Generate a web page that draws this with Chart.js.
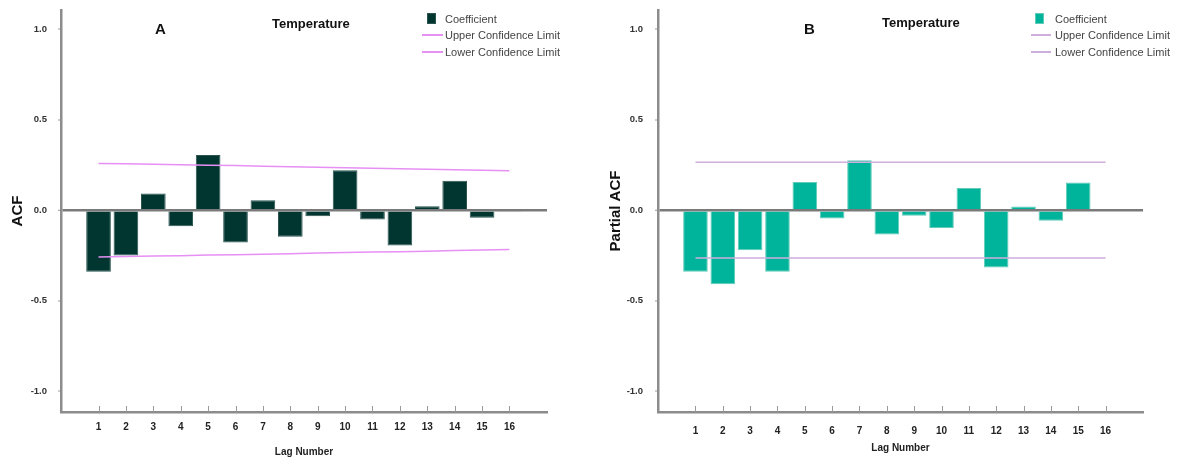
<!DOCTYPE html>
<html><head><meta charset="utf-8">
<script src="https://cdn.jsdelivr.net/npm/chart.js@4.4.1/dist/chart.umd.min.js"></script>
<style>
body{margin:0;background:#fff;width:1177px;height:459px;overflow:hidden;position:relative;font-family:"Liberation Sans",Arial,sans-serif}
canvas{position:absolute;top:0}
.t{position:absolute;font-weight:bold;color:#111;white-space:nowrap;line-height:1}
.lg{position:absolute;font-family:"Liberation Sans",Arial,sans-serif;font-size:11px;color:#444;white-space:nowrap;line-height:1}
.sq{position:absolute;width:9px;height:11px}
.ln{position:absolute;height:2px}
</style>
</head><body>
<canvas id="cA" width="580" height="459" style="left:0;width:580px;height:459px"></canvas>
<canvas id="cB" width="597" height="459" style="left:580px;width:597px;height:459px"></canvas>

<div class="t" style="left:155px;top:21px;font-size:15px">A</div>
<div class="t" style="left:272px;top:17px;font-size:13px">Temperature</div>
<div class="sq" style="left:427px;top:13px;background:#003530;border:1px solid #2c5550;box-sizing:border-box"></div>
<div class="lg" style="left:445px;top:14px">Coefficient</div>
<div class="ln" style="left:422px;top:34px;width:21px;background:#e690f3"></div>
<div class="lg" style="left:445px;top:30px">Upper Confidence Limit</div>
<div class="ln" style="left:422px;top:51px;width:21px;background:#e690f3"></div>
<div class="lg" style="left:445px;top:47px">Lower Confidence Limit</div>

<div class="t" style="left:804px;top:21px;font-size:15px">B</div>
<div class="t" style="left:882px;top:16px;font-size:13px">Temperature</div>
<div class="sq" style="left:1035px;top:13px;background:#00b39b;border:1px solid #5fcbb8;box-sizing:border-box"></div>
<div class="lg" style="left:1055px;top:14px">Coefficient</div>
<div class="ln" style="left:1031px;top:34px;width:20px;background:#cdaedc"></div>
<div class="lg" style="left:1055px;top:30px">Upper Confidence Limit</div>
<div class="ln" style="left:1031px;top:51px;width:20px;background:#cdaedc"></div>
<div class="lg" style="left:1055px;top:47px">Lower Confidence Limit</div>

<script>
const lags = [1,2,3,4,5,6,7,8,9,10,11,12,13,14,15,16];
const acf = [-0.340,-0.250,0.092,-0.088,0.304,-0.178,0.055,-0.147,-0.033,0.221,-0.051,-0.195,0.022,0.162,-0.042,-0.008];
const acfUpper = [0.258,0.256,0.253,0.251,0.248,0.246,0.243,0.240,0.237,0.234,0.231,0.229,0.226,0.223,0.220,0.217];
const acfLower = [-0.258,-0.256,-0.253,-0.251,-0.248,-0.246,-0.243,-0.240,-0.237,-0.234,-0.231,-0.229,-0.226,-0.223,-0.220,-0.217];
const pacf = [-0.340,-0.409,-0.221,-0.340,0.156,-0.046,0.276,-0.134,-0.031,-0.098,0.123,-0.317,0.020,-0.059,0.153,0.000];
const pacfUpper = [0.264,0.264,0.264,0.264,0.264,0.264,0.264,0.264,0.264,0.264,0.264,0.264,0.264,0.264,0.264,0.264];
const pacfLower = [-0.264,-0.264,-0.264,-0.264,-0.264,-0.264,-0.264,-0.264,-0.264,-0.264,-0.264,-0.264,-0.264,-0.264,-0.264,-0.264];
const yTickValues = [-1.0,-0.5,0.0,0.5,1.0];
const yTitleA = 'ACF';
const yTitleB = 'Partial ACF';
const xTitle = 'Lag Number';

const pts = arr => lags.map((l,i)=>({x:l,y:arr[i]}));

const innerTicks = {
  id:'innerTicks',
  afterDraw(chart){
    const xs = chart.scales.x, ctx = chart.ctx, b = chart.chartArea.bottom;
    ctx.save(); ctx.strokeStyle='#9a9a9a'; ctx.lineWidth=1;
    for (const v of lags){
      const px = Math.round(xs.getPixelForValue(v))+0.5;
      ctx.beginPath(); ctx.moveTo(px,b-6); ctx.lineTo(px,b); ctx.stroke();
    }
    ctx.restore();
  }
};

function makeChart(id, vals, up, lo, barColor, barBorder, limColor, yTitle, o){
  return new Chart(document.getElementById(id), {
    type:'bar',
    data:{datasets:[
      {type:'bar', label:'Coefficient', data:pts(vals), backgroundColor:barColor, borderColor:barBorder, borderWidth:1,
       barPercentage:0.9, categoryPercentage:1.0, order:2},
      {type:'line', label:'Upper Confidence Limit', data:pts(up), borderColor:limColor, borderWidth:1.5, pointRadius:0, fill:false, order:1},
      {type:'line', label:'Lower Confidence Limit', data:pts(lo), borderColor:limColor, borderWidth:1.5, pointRadius:0, fill:false, order:1}
    ]},
    options:{
      responsive:false, animation:false, devicePixelRatio:1,
      layout:{padding:{top:10,right:o.right,left:0,bottom:0}},
      plugins:{legend:{display:false}, tooltip:{enabled:false}, title:{display:false}},
      scales:{
        x:{type:'linear', min:-0.37, max:17.37, offset:false,
           afterBuildTicks(s){ s.ticks = lags.map(v=>({value:v})); },
           afterFit(s){ s.height = 47; s.paddingLeft = 0; s.paddingRight = 0; },
           grid:{display:false},
           border:{display:true,color:'#8c8c8c',width:2.5},
           ticks:{padding:o.xpad, color:'#222', font:{family:'Liberation Sans',size:10,weight:'bold'}, maxRotation:0, autoSkip:false, callback:v=>String(v)},
           title:{display:true,text:xTitle,color:'#222',font:{family:'Liberation Sans',size:10,weight:'bold'},padding:{top:0,bottom:o.xtb}}
        },
        y:{min:-1.114, max:1.105,
           afterBuildTicks(s){ s.ticks = yTickValues.map(v=>({value:v})); },
           afterFit(s){ s.width = o.yw; s.paddingTop = 0; s.paddingBottom = 0; },
           grid:{display:true, drawOnChartArea:true, drawTicks:true, tickLength:3,
                 color:c=>c.tick && c.tick.value===0 ? '#7a7a7a' : 'rgba(0,0,0,0)',
                 lineWidth:c=>c.tick && c.tick.value===0 ? 2.5 : 0,
                 tickColor:'#9a9a9a', tickWidth:1},
           border:{display:true,color:'#8c8c8c',width:2.5},
           ticks:{padding:o.ypad, color:'#333', font:{family:'Liberation Sans',size:9.5,weight:'bold'}, callback:v=>Number(v).toFixed(1)},
           title:{display:true,text:yTitle,color:'#111',font:{family:'Liberation Sans',size:15,weight:'bold'},padding:{top:o.ytp,bottom:0}}
        }
      }
    },
    plugins:[innerTicks]
  });
}

makeChart('cA', acf, acfUpper, acfLower, '#003530', '#2c5550', '#e690f3', yTitleA, {right:33, yw:61, xpad:1, xtb:1, ypad:11, ytp:9});
makeChart('cB', pacf, pacfUpper, pacfLower, '#00b39b', '#5fcbb8', '#cdaedc', yTitleB, {right:34, yw:78, xpad:5, xtb:5, ypad:12, ytp:27});
</script>
</body></html>
